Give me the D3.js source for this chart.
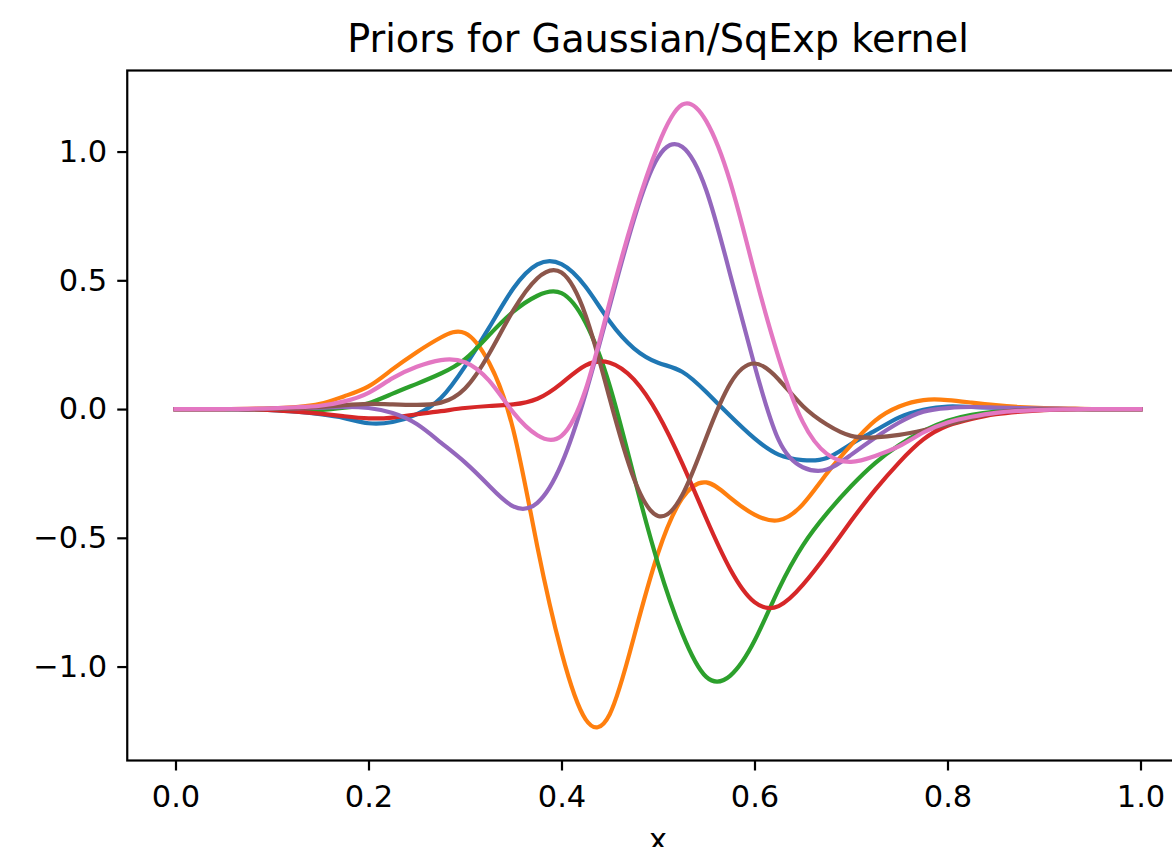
<!DOCTYPE html>
<html>
<head>
<meta charset="utf-8">
<script src="https://cdn.jsdelivr.net/npm/d3@7"></script>
<style>
    body { margin: 0; background: #fff; }
    .canvas svg { display: block; }
</style>
</head>
<body>
<div class="canvas"></div>
<script>
// sample grid along x
const xs = [0, 0.025, 0.05, 0.075, 0.1, 0.125, 0.15, 0.175, 0.2, 0.225,
    0.25, 0.275, 0.3, 0.325, 0.35, 0.375, 0.4, 0.425, 0.45, 0.475,
    0.5, 0.525, 0.55, 0.575, 0.6, 0.625, 0.65, 0.675, 0.7, 0.725,
    0.75, 0.775, 0.8, 0.825, 0.85, 0.875, 0.9, 0.925, 0.95, 0.975, 1];

// prior samples
const sample1 = [0, 0, 0, -0.001, -0.004, -0.01, -0.02, -0.035, -0.055, -0.05,
    -0.02, 0.043, 0.166, 0.316, 0.468, 0.562, 0.563, 0.475, 0.34, 0.236,
    0.18, 0.145, 0.066, -0.027, -0.114, -0.177, -0.198, -0.19, -0.136, -0.084,
    -0.032, -0.003, 0.01, 0.008, 0.005, 0.003, 0.001, 0, 0, 0, 0];
const sample2 = [0, 0, 0, 0.001, 0.003, 0.008, 0.02, 0.05, 0.088, 0.155,
    0.221, 0.278, 0.295, 0.18, -0.08, -0.535, -0.944, -1.205, -1.185, -0.886,
    -0.56, -0.347, -0.285, -0.345, -0.41, -0.432, -0.37, -0.25, -0.14, -0.045,
    0.01, 0.035, 0.035, 0.025, 0.015, 0.008, 0.004, 0.002, 0, 0, 0];
const sample3 = [0, 0, 0, 0, -0.002, -0.004, -0.004, 0.005, 0.023, 0.06,
    0.098, 0.138, 0.194, 0.287, 0.378, 0.44, 0.45, 0.335, 0.09, -0.26,
    -0.6, -0.87, -1.04, -1.035, -0.9, -0.7, -0.53, -0.405, -0.3, -0.21,
    -0.14, -0.085, -0.045, -0.022, -0.01, -0.004, -0.002, 0, 0, 0, 0];
const sample4 = [0, 0, 0, -0.001, -0.004, -0.01, -0.018, -0.028, -0.036, -0.033,
    -0.02, -0.008, 0.004, 0.012, 0.018, 0.04, 0.1, 0.17, 0.18, 0.115,
    -0.02, -0.21, -0.425, -0.623, -0.75, -0.765, -0.683, -0.564, -0.435, -0.314,
    -0.207, -0.118, -0.065, -0.038, -0.02, -0.01, -0.004, -0.001, 0, 0, 0];
const sample5 = [0, 0, 0, 0, 0.001, 0.003, 0.005, 0.008, 0.004, -0.015,
    -0.058, -0.13, -0.207, -0.298, -0.378, -0.364, -0.213, 0.06, 0.4, 0.735,
    0.977, 1.019, 0.85, 0.52, 0.17, -0.12, -0.226, -0.235, -0.178, -0.111,
    -0.052, -0.01, 0.004, 0.008, 0.006, 0.004, 0.002, 0.001, 0, 0, 0];
const sample6 = [0, 0, 0, 0, 0.001, 0.003, 0.008, 0.015, 0.02, 0.018,
    0.016, 0.025, 0.08, 0.215, 0.383, 0.508, 0.53, 0.364, 0.04, -0.27,
    -0.415, -0.335, -0.11, 0.1, 0.177, 0.115, 0.012, -0.06, -0.104, -0.11,
    -0.1, -0.082, -0.06, -0.035, -0.015, -0.005, -0.001, 0, 0, 0, 0];
const sample7 = [0, 0, 0, 0.001, 0.003, 0.007, 0.013, 0.03, 0.063, 0.12,
    0.164, 0.19, 0.182, 0.11, -0.013, -0.102, -0.104, 0.076, 0.417, 0.75,
    1.023, 1.182, 1.118, 0.88, 0.53, 0.2, -0.05, -0.174, -0.205, -0.182,
    -0.144, -0.091, -0.052, -0.03, -0.015, -0.007, -0.003, -0.001, 0, 0, 0];

const samples = [sample1, sample2, sample3, sample4, sample5, sample6, sample7];
const colors = ['#1f77b4', '#ff7f0e', '#2ca02c', '#d62728', '#9467bd', '#8c564b', '#e377c2'];

const xTicks = [0, 0.2, 0.4, 0.6, 0.8, 1.0];
const yTicks = [-1.0, -0.5, 0.0, 0.5, 1.0];
const title = 'Priors for Gaussian/SqExp kernel';
const xLabel = 'x';

const width = 1172;
const height = 847;
const font = '"DejaVu Sans", sans-serif';

const svg = d3.select('.canvas')
    .append('svg')
        .attr('width', width)
        .attr('height', height);

// plot area (right edge falls outside the picture)
const margin = { top: 70.5, left: 127.25 };
const graphWidth = 1061.5;
const graphHeight = 690;

const graph = svg.append('g')
    .attr('transform', `translate(${margin.left}, ${margin.top})`);

// scales
const x = d3.scaleLinear()
    .domain([-0.05, 1.05])
    .range([0, graphWidth]);

const y = d3.scaleLinear()
    .domain([-1.3648, 1.3148])
    .range([graphHeight, 0]);

// lines
const line = d3.line()
    .x((d, i) => x(xs[i]))
    .y(d => y(d))
    .curve(d3.curveNatural);

graph.selectAll('path.sample')
    .data(samples)
    .enter()
    .append('path')
        .attr('class', 'sample')
        .attr('d', line)
        .attr('fill', 'none')
        .attr('stroke', (d, i) => colors[i])
        .attr('stroke-width', 4.2)
        .attr('stroke-linecap', 'square')
        .attr('stroke-linejoin', 'round');

// axes
const xAxis = d3.axisBottom(x)
    .tickValues(xTicks)
    .tickSize(10)
    .tickPadding(15)
    .tickFormat(d3.format('.1f'));
const yAxis = d3.axisLeft(y)
    .tickValues(yTicks)
    .tickSize(10)
    .tickPadding(10)
    .tickFormat(d3.format('.1f'));

const xAxisGroup = graph.append('g')
    .attr('transform', `translate(0, ${graphHeight})`)
    .call(xAxis);
const yAxisGroup = graph.append('g')
    .call(yAxis);

[xAxisGroup, yAxisGroup].forEach(g => {
    g.select('.domain').remove();
    g.selectAll('line').attr('stroke', '#000').attr('stroke-width', 2.2);
    g.selectAll('text')
        .attr('fill', '#000')
        .style('font-family', font)
        .style('font-size', '30.5px');
});

// frame
graph.append('rect')
    .attr('width', graphWidth)
    .attr('height', graphHeight)
    .attr('fill', 'none')
    .attr('stroke', '#000')
    .attr('stroke-width', 2.2);

// title and label
svg.append('text')
    .attr('x', margin.left + graphWidth / 2)
    .attr('y', 52)
    .attr('text-anchor', 'middle')
    .style('font-family', font)
    .style('font-size', '38.2px')
    .text(title);

svg.append('text')
    .attr('x', margin.left + graphWidth / 2)
    .attr('y', 850)
    .attr('text-anchor', 'middle')
    .style('font-family', font)
    .style('font-size', '30.5px')
    .text(xLabel);
</script>
</body>
</html>
